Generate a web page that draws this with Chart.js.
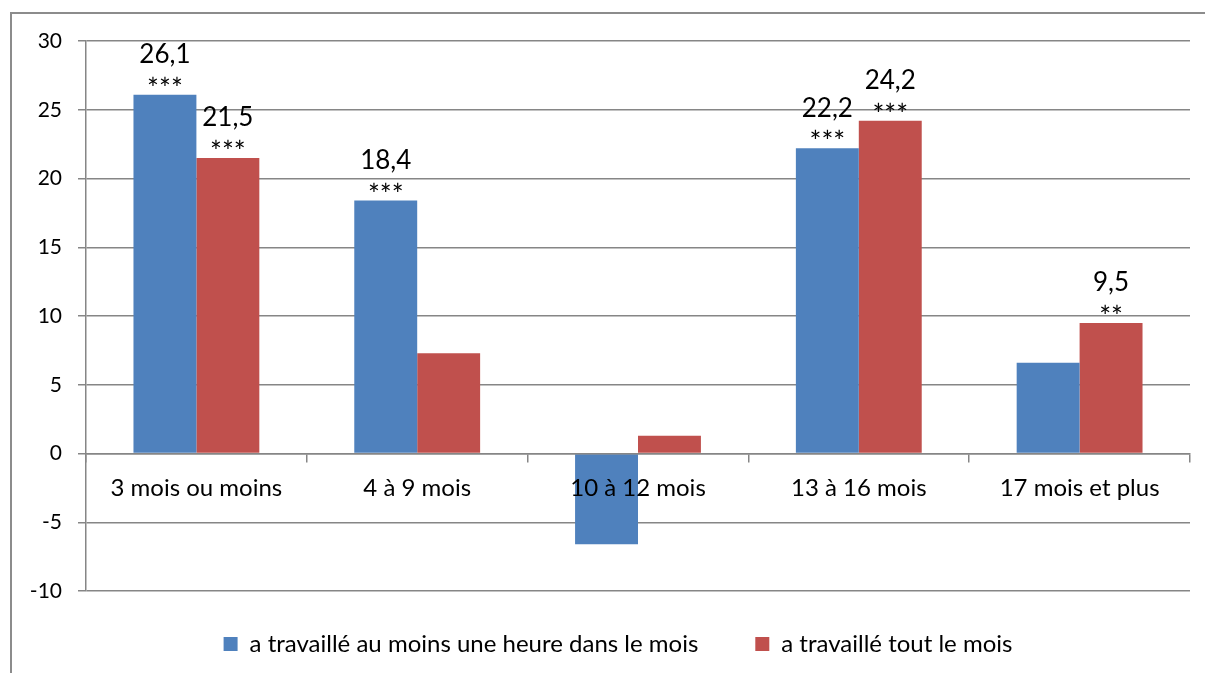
<!DOCTYPE html>
<html>
<head>
<meta charset="utf-8">
<script src="https://cdn.jsdelivr.net/npm/chart.js@4"></script>
<style>
  html, body { margin: 0; padding: 0; background: #fff; }
  #wrap { position: relative; width: 1205px; height: 673px; overflow: hidden; }
  #frame { position: absolute; left: 10px; top: 12px; width: 1300px; height: 800px; border: 2px solid #8c8c8c; box-sizing: border-box; }
  canvas { position: absolute; left: 0; top: 0; }
</style>
</head>
<body>
<div id="wrap">
  <div id="frame"></div>
  <canvas id="c" width="1205" height="673"></canvas>
</div>
<script>
const categories = ["3 mois ou moins", "4 à 9 mois", "10 à 12 mois", "13 à 16 mois", "17 mois et plus"];
const seriesNames = ["a travaillé au moins une heure dans le mois", "a travaillé tout le mois"];
const seriesA = [26.1, 18.4, -6.6, 22.2, 6.6];
const seriesB = [21.5, 7.3, 1.3, 24.2, 9.5];
const labelsA = ["26,1", "18,4", "", "22,2", ""];
const labelsB = ["21,5", "", "", "24,2", "9,5"];
const starsA = ["***", "***", "", "***", ""];
const starsB = ["***", "", "", "***", "**"];
const yTicks = [-10, -5, 0, 5, 10, 15, 20, 25, 30];

const FONT = "Lato";
const GRID = "#868686";

const annot = {
  id: "annot",
  beforeUpdate(chart) {
    const lg = chart.legend;
    if (lg && !lg._patched) {
      const orig = lg.fit.bind(lg);
      lg.fit = function () { orig(); this.height = 82; };
      lg._patched = true;
    }
  },
  afterLayout(chart) {
    const lg = chart.legend;
    if (lg) { lg.top -= 16; lg.bottom -= 16; lg.left += 23; lg.right += 23; }
  },
  afterDatasetsDraw(chart) {
    const ctx = chart.ctx;
    const sets = [[labelsA, starsA], [labelsB, starsB]];
    ctx.save();
    ctx.fillStyle = "#000";
    ctx.textAlign = "center";
    ctx.textBaseline = "middle";
    sets.forEach((s, di) => {
      const meta = chart.getDatasetMeta(di);
      meta.data.forEach((el, i) => {
        if (!s[0][i]) return;
        ctx.font = "26px " + FONT;
        ctx.fillText(s[0][i], el.x, el.y - 40);
        ctx.font = "28px " + FONT;
        ctx.fillText(s[1][i], el.x, el.y - 5);
      });
    });
    ctx.restore();
  }
};

new Chart(document.getElementById("c"), {
  type: "bar",
  data: {
    labels: categories,
    datasets: [
      { label: seriesNames[0], data: seriesA, backgroundColor: "#4F81BD" },
      { label: seriesNames[1], data: seriesB, backgroundColor: "#C0504D" }
    ]
  },
  options: {
    responsive: false,
    animation: false,
    devicePixelRatio: 1,
    categoryPercentage: 0.57,
    barPercentage: 1,
    layout: { padding: { left: 0, right: 15, top: 41, bottom: 0 } },
    plugins: {
      tooltip: { enabled: false },
      legend: {
        position: "bottom",
        labels: {
          font: { family: FONT, size: 24 },
          color: "#000",
          boxWidth: 14,
          boxHeight: 14,
          padding: 57
        }
      }
    },
    scales: {
      x: {
        position: { y: 0 },
        grid: { drawOnChartArea: false, color: GRID, tickLength: 8, lineWidth: 1.5, z: 1 },
        border: { color: GRID, width: 1.5, z: 1 },
        ticks: { font: { family: FONT, size: 24 }, color: "#000", padding: 12, z: 1 }
      },
      y: {
        min: -10, max: 30,
        afterBuildTicks(scale) { scale.ticks = yTicks.map(v => ({ value: v })); },
        afterFit(scale) { scale.width = 86; },
        grid: { color: GRID, tickLength: 8, lineWidth: 1.5 },
        border: { color: GRID, width: 1.5 },
        ticks: { font: { family: FONT, size: 21 }, color: "#000", padding: 16 }
      }
    }
  },
  plugins: [annot]
});
</script>
</body>
</html>
